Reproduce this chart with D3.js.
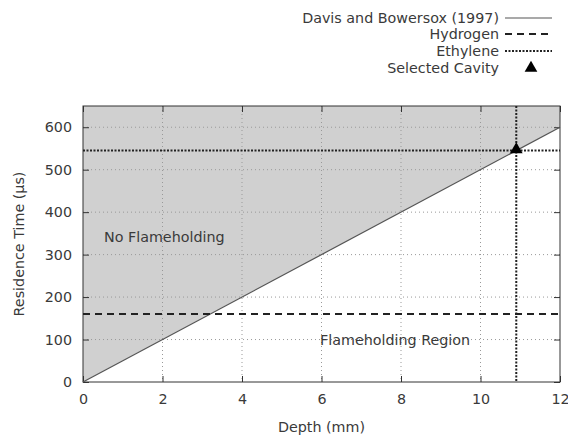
<!DOCTYPE html>
<html><head><meta charset="utf-8">
<script src="https://cdn.jsdelivr.net/npm/d3@7"></script>
<style>body{margin:0;background:#fff}svg{display:block}text{font-family:"DejaVu Sans",sans-serif;fill:#3a3a3a}</style>
</head><body><svg id="c" width="568" height="437"></svg>
<script>
const xTicks=[0,2,4,6,8,10,12];
const yTicks=[0,100,200,300,400,500,600];
const xDomain=[0,12];
const yDomain=[0,650];
const davisX=[0,12];
const davisY=[0,600];
const hydrogenTime=160;
const ethyleneTime=545;
const cavityDepth=10.9;
const legendLabels=["Davis and Bowersox (1997)","Hydrogen","Ethylene","Selected Cavity"];

const FS=14.3;
const svg=d3.select("#c");
const L=83,R=560,T=106,B=382;
const x=d3.scaleLinear().domain(xDomain).range([L,R]);
const y=d3.scaleLinear().domain(yDomain).range([B,T]);

const area=[[davisX[0],davisY[0]],[davisX[1],davisY[1]],[xDomain[1],yDomain[1]],[xDomain[0],yDomain[1]]];
svg.append("path").attr("d",d3.line().x(d=>x(d[0])).y(d=>y(d[1]))(area)+"Z").attr("fill","#d0d0d0");

const g=svg.append("g");
xTicks.filter(v=>v>xDomain[0]&&v<xDomain[1]).forEach(v=>g.append("line").attr("x1",x(v)).attr("x2",x(v)).attr("y1",T).attr("y2",B).attr("stroke","#999").attr("stroke-width",1).attr("stroke-dasharray","1,3"));
yTicks.filter(v=>v>yDomain[0]).forEach(v=>g.append("line").attr("x1",L).attr("x2",R).attr("y1",y(v)).attr("y2",y(v)).attr("stroke","#999").attr("stroke-width",1).attr("stroke-dasharray","1,3"));

const xa=svg.append("g").attr("transform",`translate(0,${B})`).call(d3.axisBottom(x).tickValues(xTicks).tickSizeInner(-6).tickSizeOuter(0).tickPadding(12));
const xt=svg.append("g").attr("transform",`translate(0,${T})`).call(d3.axisTop(x).tickValues(xTicks).tickSizeInner(-6).tickSizeOuter(0).tickFormat(""));
const ya=svg.append("g").attr("transform",`translate(${L},0)`).call(d3.axisLeft(y).tickValues(yTicks).tickSizeInner(-6).tickSizeOuter(0).tickPadding(11));
const yr=svg.append("g").attr("transform",`translate(${R},0)`).call(d3.axisRight(y).tickValues(yTicks).tickSizeInner(-6).tickSizeOuter(0).tickFormat(""));
[xa,xt,ya,yr].forEach(a=>{a.select(".domain").remove();a.selectAll("line").attr("stroke","#333");a.selectAll("text").attr("font-size",FS).attr("font-family","DejaVu Sans").attr("fill","#3a3a3a");});
svg.append("rect").attr("x",L).attr("y",T).attr("width",R-L).attr("height",B-T).attr("fill","none").attr("stroke","#333").attr("stroke-width",1);

svg.append("line").attr("x1",x(davisX[0])).attr("y1",y(davisY[0])).attr("x2",x(davisX[1])).attr("y2",y(davisY[1])).attr("stroke","#555").attr("stroke-width",1.2);
svg.append("line").attr("x1",L).attr("x2",R).attr("y1",y(hydrogenTime)).attr("y2",y(hydrogenTime)).attr("stroke","#222").attr("stroke-width",2).attr("stroke-dasharray","7,5");
svg.append("line").attr("x1",L).attr("x2",R).attr("y1",y(ethyleneTime)).attr("y2",y(ethyleneTime)).attr("stroke","#222").attr("stroke-width",2).attr("stroke-dasharray","2,1.5");
svg.append("line").attr("x1",x(cavityDepth)).attr("x2",x(cavityDepth)).attr("y1",T).attr("y2",B).attr("stroke","#222").attr("stroke-width",2).attr("stroke-dasharray","2,1.5");
svg.append("path").attr("d",d3.symbol(d3.symbolTriangle,70)()).attr("transform",`translate(${x(cavityDepth)},${y(ethyleneTime)-1})`).attr("fill","#000");

svg.append("text").attr("x",104).attr("y",242).attr("font-size",FS).text("No Flameholding");
svg.append("text").attr("x",320).attr("y",345).attr("font-size",FS).text("Flameholding Region");

svg.append("text").attr("x",(L+R)/2).attr("y",432).attr("text-anchor","middle").attr("font-size",FS).text("Depth (mm)");
svg.append("text").attr("transform",`translate(24,${(T+B)/2}) rotate(-90)`).attr("text-anchor","middle").attr("font-size",FS).text("Residence Time (µs)");

const ly=[18,34,51,68];
legendLabels.forEach((t,i)=>{
  svg.append("text").attr("x",499).attr("y",ly[i]+5).attr("text-anchor","end").attr("font-size",FS).text(t);
});
svg.append("line").attr("x1",505).attr("x2",552).attr("y1",ly[0]).attr("y2",ly[0]).attr("stroke","#555").attr("stroke-width",1.2);
svg.append("line").attr("x1",505).attr("x2",552).attr("y1",ly[1]).attr("y2",ly[1]).attr("stroke","#222").attr("stroke-width",2).attr("stroke-dasharray","7,5");
svg.append("line").attr("x1",505).attr("x2",552).attr("y1",ly[2]).attr("y2",ly[2]).attr("stroke","#222").attr("stroke-width",2).attr("stroke-dasharray","2,1.5");
svg.append("path").attr("d",d3.symbol(d3.symbolTriangle,70)()).attr("transform",`translate(531,${ly[3]})`).attr("fill","#000");
</script></body></html>
